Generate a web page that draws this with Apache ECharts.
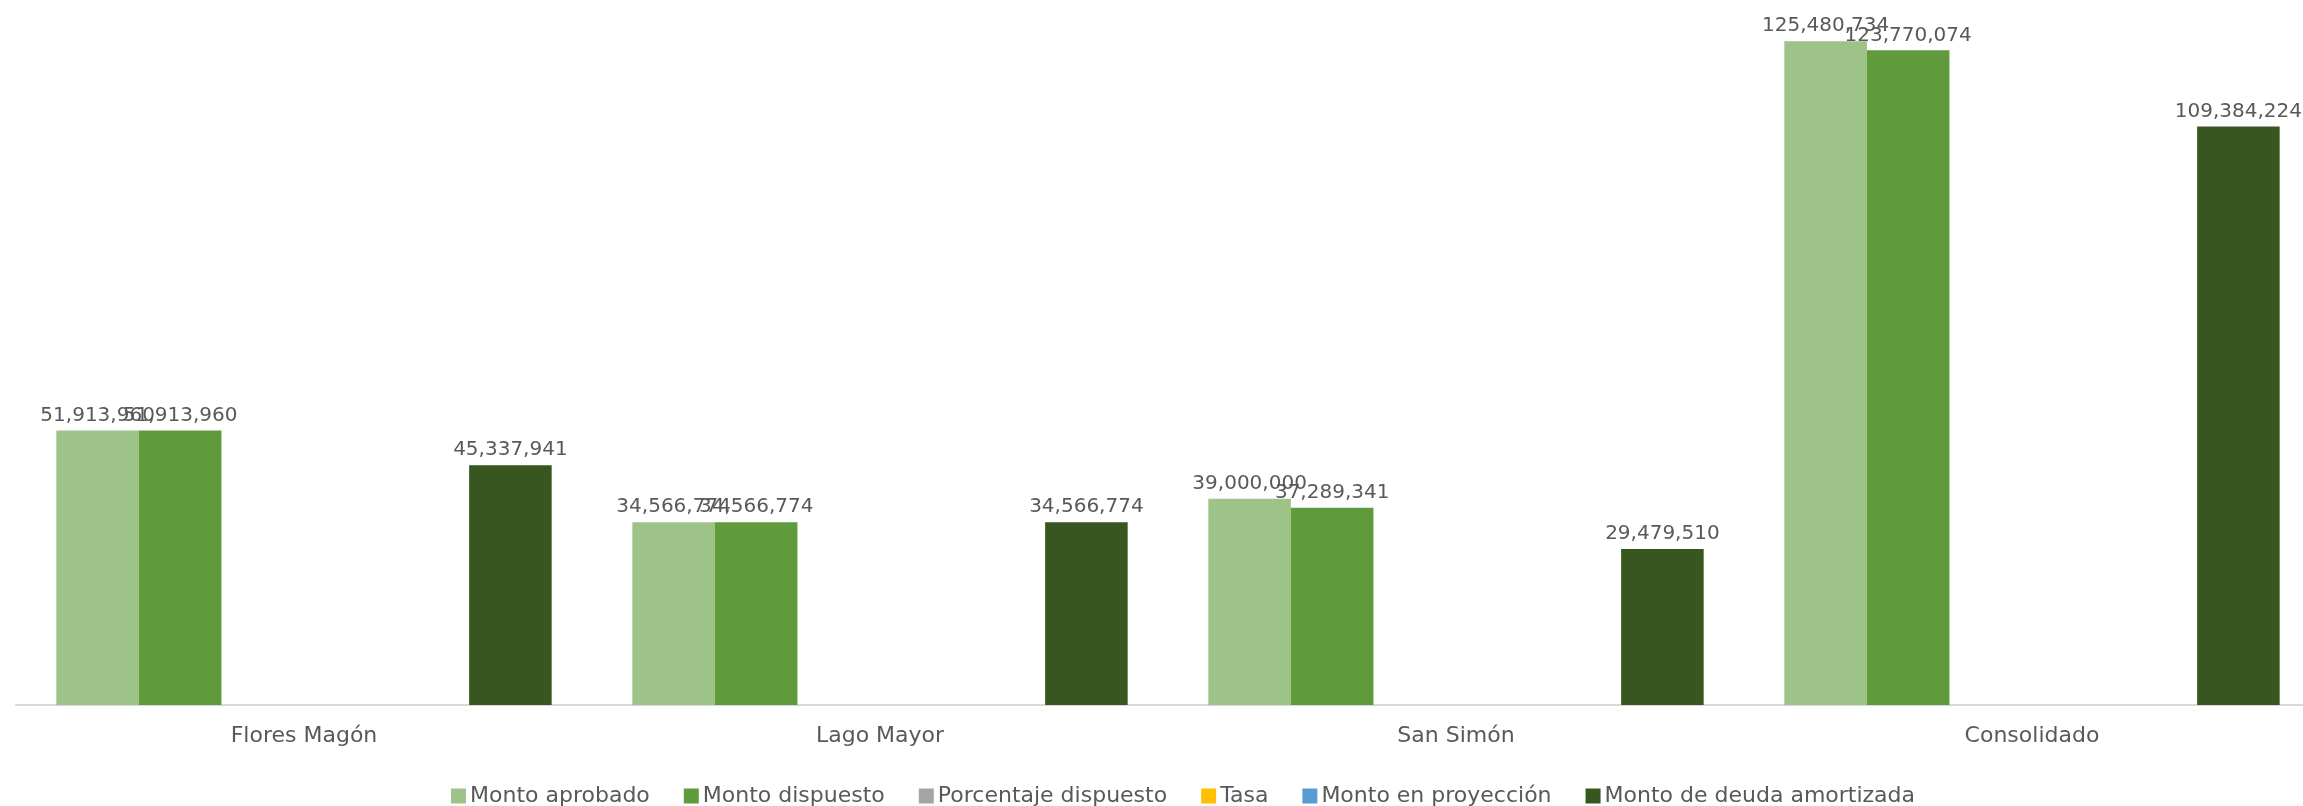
<!DOCTYPE html>
<html>
<head>
<meta charset="utf-8">
<script src="https://cdn.jsdelivr.net/npm/echarts@6/dist/echarts.min.js"></script>
<style>
  html, body { margin: 0; padding: 0; background: #ffffff; }
  #chart { width: 2303px; height: 806px; }
</style>
</head>
<body>
<div id="chart"></div>
<script>
// Categories and series values
const categories = ['Flores Magón', 'Lago Mayor', 'San Simón', 'Consolidado'];
const montoAprobado = [51913960, 34566774, 39000000, 125480734];
const montoDispuesto = [51913960, 34566774, 37289341, 123770074];
const porcentajeDispuesto = [1, 1, 0.96, 0.99];
const tasa = [0, 0, 0, 0];
const montoProyeccion = [0, 0, 0, 0];
const montoAmortizada = [45337941, 34566774, 29479510, 109384224];

const seriesNames = ['Monto aprobado', 'Monto dispuesto', 'Porcentaje dispuesto', 'Tasa', 'Monto en proyección', 'Monto de deuda amortizada'];
const seriesColors = ['#9dc389', '#5f9a3c', '#a5a5a5', '#ffc000', '#5b9bd5', '#38561f'];
const seriesData = [montoAprobado, montoDispuesto, porcentajeDispuesto, tasa, montoProyeccion, montoAmortizada];
const labelled = [true, true, false, false, false, true];

const fmt = v => Number(v).toLocaleString('en-US');
const font = 'DejaVu Sans';

const chart = echarts.init(document.getElementById('chart'));
chart.setOption({
  animation: false,
  backgroundColor: '#ffffff',
  grid: { left: 16, width: 2304, top: 20, bottom: 101, outerBoundsMode: 'none', containLabel: false },
  legend: {
    top: 780,
    left: 446,
    icon: 'rect',
    itemWidth: 15,
    itemHeight: 15,
    itemGap: 34,
    textStyle: { fontFamily: font, fontSize: 22, color: '#595959', padding: [0, 0, 0, -1] },
    data: seriesNames
  },
  xAxis: {
    type: 'category',
    data: categories,
    axisLine: { lineStyle: { color: '#d9d9d9', width: 2 } },
    axisTick: { show: false },
    axisLabel: { fontFamily: font, fontSize: 22, color: '#595959', margin: 20 }
  },
  yAxis: {
    type: 'value',
    min: 0,
    max: 129500000,
    show: false,
    splitLine: { show: false }
  },
  series: seriesNames.map((name, i) => ({
    name: name,
    type: 'bar',
    data: seriesData[i],
    barGap: '0%',
    barCategoryGap: '14%',
    itemStyle: { color: seriesColors[i] },
    label: {
      show: labelled[i],
      position: 'top',
      distance: 5,
      fontFamily: font,
      fontSize: 20,
      color: '#595959',
      formatter: p => fmt(p.value)
    }
  }))
});
</script>
</body>
</html>
